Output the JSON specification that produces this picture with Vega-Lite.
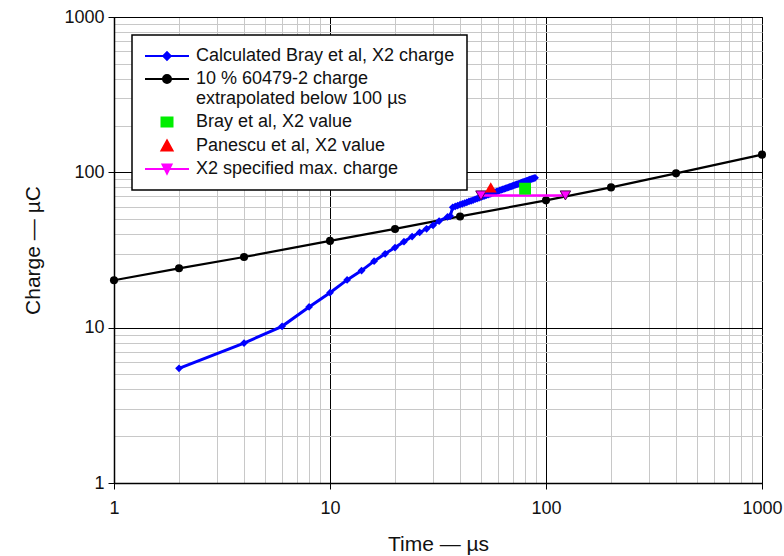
{
  "$schema": "https://vega.github.io/schema/vega-lite/v6.json",
  "width": 648,
  "height": 466,
  "autosize": {"type": "none"},
  "padding": {"left": 114, "top": 17, "right": 22, "bottom": 73},
  "background": "white",
  "config": {
    "view": {"stroke": "black", "strokeWidth": 1},
    "font": "Liberation Sans",
    "legend": {"strokeWidth": 1.5}
  },
  "datasets": {
    "iec": [
      {"t": 1, "q": 20.2, "series": "10 % 60479-2 charge|extrapolated below 100 µs"},
      {"t": 2, "q": 24.1, "series": "10 % 60479-2 charge|extrapolated below 100 µs"},
      {"t": 4, "q": 28.5, "series": "10 % 60479-2 charge|extrapolated below 100 µs"},
      {"t": 10, "q": 36.2, "series": "10 % 60479-2 charge|extrapolated below 100 µs"},
      {"t": 20, "q": 43.2, "series": "10 % 60479-2 charge|extrapolated below 100 µs"},
      {"t": 40, "q": 52, "series": "10 % 60479-2 charge|extrapolated below 100 µs"},
      {"t": 100, "q": 66, "series": "10 % 60479-2 charge|extrapolated below 100 µs"},
      {"t": 200, "q": 80, "series": "10 % 60479-2 charge|extrapolated below 100 µs"},
      {"t": 400, "q": 98.5, "series": "10 % 60479-2 charge|extrapolated below 100 µs"},
      {"t": 1000, "q": 130, "series": "10 % 60479-2 charge|extrapolated below 100 µs"}
    ],
    "bray": [
      {"t": 2, "q": 5.47, "series": "Calculated Bray et al, X2 charge"},
      {"t": 4, "q": 7.96, "series": "Calculated Bray et al, X2 charge"},
      {"t": 6, "q": 10.2, "series": "Calculated Bray et al, X2 charge"},
      {"t": 8, "q": 13.6, "series": "Calculated Bray et al, X2 charge"},
      {"t": 10, "q": 16.8, "series": "Calculated Bray et al, X2 charge"},
      {"t": 12, "q": 20.3, "series": "Calculated Bray et al, X2 charge"},
      {"t": 14, "q": 23.3, "series": "Calculated Bray et al, X2 charge"},
      {"t": 16, "q": 26.8, "series": "Calculated Bray et al, X2 charge"},
      {"t": 18, "q": 29.9, "series": "Calculated Bray et al, X2 charge"},
      {"t": 20, "q": 32.8, "series": "Calculated Bray et al, X2 charge"},
      {"t": 22, "q": 35.8, "series": "Calculated Bray et al, X2 charge"},
      {"t": 24, "q": 38.6, "series": "Calculated Bray et al, X2 charge"},
      {"t": 26, "q": 41.0, "series": "Calculated Bray et al, X2 charge"},
      {"t": 28, "q": 43.3, "series": "Calculated Bray et al, X2 charge"},
      {"t": 30, "q": 45.6, "series": "Calculated Bray et al, X2 charge"},
      {"t": 32, "q": 48.6, "series": "Calculated Bray et al, X2 charge"},
      {"t": 35, "q": 51.6, "series": "Calculated Bray et al, X2 charge"},
      {"t": 36, "q": 52.3, "series": "Calculated Bray et al, X2 charge"},
      {"t": 37, "q": 59.5, "series": "Calculated Bray et al, X2 charge"},
      {"t": 38, "q": 60.3, "series": "Calculated Bray et al, X2 charge"},
      {"t": 39, "q": 61.1, "series": "Calculated Bray et al, X2 charge"},
      {"t": 40, "q": 61.9, "series": "Calculated Bray et al, X2 charge"},
      {"t": 41, "q": 62.6, "series": "Calculated Bray et al, X2 charge"},
      {"t": 42, "q": 63.4, "series": "Calculated Bray et al, X2 charge"},
      {"t": 43, "q": 64.1, "series": "Calculated Bray et al, X2 charge"},
      {"t": 44, "q": 64.9, "series": "Calculated Bray et al, X2 charge"},
      {"t": 45, "q": 65.6, "series": "Calculated Bray et al, X2 charge"},
      {"t": 46, "q": 66.3, "series": "Calculated Bray et al, X2 charge"},
      {"t": 47, "q": 67.1, "series": "Calculated Bray et al, X2 charge"},
      {"t": 48, "q": 67.8, "series": "Calculated Bray et al, X2 charge"},
      {"t": 49, "q": 68.5, "series": "Calculated Bray et al, X2 charge"},
      {"t": 50, "q": 69.2, "series": "Calculated Bray et al, X2 charge"},
      {"t": 51, "q": 69.9, "series": "Calculated Bray et al, X2 charge"},
      {"t": 52, "q": 70.5, "series": "Calculated Bray et al, X2 charge"},
      {"t": 53, "q": 71.2, "series": "Calculated Bray et al, X2 charge"},
      {"t": 54, "q": 71.9, "series": "Calculated Bray et al, X2 charge"},
      {"t": 55, "q": 72.5, "series": "Calculated Bray et al, X2 charge"},
      {"t": 56, "q": 73.2, "series": "Calculated Bray et al, X2 charge"},
      {"t": 57, "q": 73.9, "series": "Calculated Bray et al, X2 charge"},
      {"t": 58, "q": 74.5, "series": "Calculated Bray et al, X2 charge"},
      {"t": 59, "q": 75.1, "series": "Calculated Bray et al, X2 charge"},
      {"t": 60, "q": 75.8, "series": "Calculated Bray et al, X2 charge"},
      {"t": 61, "q": 76.4, "series": "Calculated Bray et al, X2 charge"},
      {"t": 62, "q": 77.0, "series": "Calculated Bray et al, X2 charge"},
      {"t": 63, "q": 77.6, "series": "Calculated Bray et al, X2 charge"},
      {"t": 64, "q": 78.3, "series": "Calculated Bray et al, X2 charge"},
      {"t": 65, "q": 78.9, "series": "Calculated Bray et al, X2 charge"},
      {"t": 66, "q": 79.5, "series": "Calculated Bray et al, X2 charge"},
      {"t": 67, "q": 80.1, "series": "Calculated Bray et al, X2 charge"},
      {"t": 68, "q": 80.7, "series": "Calculated Bray et al, X2 charge"},
      {"t": 69, "q": 81.3, "series": "Calculated Bray et al, X2 charge"},
      {"t": 70, "q": 81.8, "series": "Calculated Bray et al, X2 charge"},
      {"t": 71, "q": 82.4, "series": "Calculated Bray et al, X2 charge"},
      {"t": 72, "q": 83.0, "series": "Calculated Bray et al, X2 charge"},
      {"t": 73, "q": 83.6, "series": "Calculated Bray et al, X2 charge"},
      {"t": 74, "q": 84.1, "series": "Calculated Bray et al, X2 charge"},
      {"t": 75, "q": 84.7, "series": "Calculated Bray et al, X2 charge"},
      {"t": 76, "q": 85.3, "series": "Calculated Bray et al, X2 charge"},
      {"t": 77, "q": 85.8, "series": "Calculated Bray et al, X2 charge"},
      {"t": 78, "q": 86.4, "series": "Calculated Bray et al, X2 charge"},
      {"t": 79, "q": 86.9, "series": "Calculated Bray et al, X2 charge"},
      {"t": 80, "q": 87.5, "series": "Calculated Bray et al, X2 charge"},
      {"t": 81, "q": 88.0, "series": "Calculated Bray et al, X2 charge"},
      {"t": 82, "q": 88.6, "series": "Calculated Bray et al, X2 charge"},
      {"t": 83, "q": 89.1, "series": "Calculated Bray et al, X2 charge"},
      {"t": 84, "q": 89.6, "series": "Calculated Bray et al, X2 charge"},
      {"t": 85, "q": 90.2, "series": "Calculated Bray et al, X2 charge"},
      {"t": 86, "q": 90.7, "series": "Calculated Bray et al, X2 charge"},
      {"t": 87, "q": 91.2, "series": "Calculated Bray et al, X2 charge"},
      {"t": 88, "q": 91.7, "series": "Calculated Bray et al, X2 charge"},
      {"t": 89, "q": 92.2, "series": "Calculated Bray et al, X2 charge"}
    ],
    "x2max": [
      {"t": 50, "q": 71, "series": "X2 specified max. charge"},
      {"t": 123, "q": 71, "series": "X2 specified max. charge"}
    ],
    "brayval": [
      {"t": 80, "q": 78.5, "series": "Bray et al, X2 value"}
    ],
    "panescu": [
      {"t": 55.5, "q": 80, "series": "Panescu et al, X2 value"}
    ]
  },
  "encoding": {
    "x": {
      "field": "t",
      "type": "quantitative",
      "scale": {"type": "log", "domain": [1, 1000], "nice": false},
      "axis": {
        "title": "Time — µs",
        "values": [1, 2, 3, 4, 5, 6, 7, 8, 9, 10, 20, 30, 40, 50, 60, 70, 80, 90, 100, 200, 300, 400, 500, 600, 700, 800, 900, 1000],
        "format": "d",
        "labelExpr": "indexof([1, 10, 100, 1000], datum.value) >= 0 ? datum.label : ''",
        "grid": true,
        "gridColor": {"condition": {"test": "indexof([1, 10, 100, 1000], datum.value) >= 0", "value": "#000000"}, "value": "#c8c8c8"},
        "gridWidth": 1,
        "gridOpacity": 1,
        "tickColor": "#000000",
        "tickOpacity": {"condition": {"test": "indexof([1, 10, 100, 1000], datum.value) >= 0", "value": 1}, "value": 0},
        "tickSize": 6,
        "tickWidth": 1,
        "domainColor": "#000000",
        "domainWidth": 1.5,
        "labelFont": "Liberation Sans",
        "labelFontSize": 18,
        "labelColor": "#111111",
        "labelPadding": 10,
        "labelFlush": false,
        "labelOverlap": false,
        "labelBound": false,
        "titleFont": "Liberation Sans",
        "titleFontSize": 21,
        "titleFontWeight": "normal",
        "titleColor": "#111111",
        "titlePadding": 16
      }
    },
    "y": {
      "field": "q",
      "type": "quantitative",
      "scale": {"type": "log", "domain": [1, 1000], "nice": false},
      "axis": {
        "title": "Charge — µC",
        "values": [1, 2, 3, 4, 5, 6, 7, 8, 9, 10, 20, 30, 40, 50, 60, 70, 80, 90, 100, 200, 300, 400, 500, 600, 700, 800, 900, 1000],
        "format": "d",
        "labelExpr": "indexof([1, 10, 100, 1000], datum.value) >= 0 ? datum.label : ''",
        "grid": true,
        "gridColor": {"condition": {"test": "indexof([1, 10, 100, 1000], datum.value) >= 0", "value": "#000000"}, "value": "#c8c8c8"},
        "gridWidth": 1,
        "gridOpacity": 1,
        "tickColor": "#000000",
        "tickOpacity": {"condition": {"test": "indexof([1, 10, 100, 1000], datum.value) >= 0", "value": 1}, "value": 0},
        "tickSize": 6,
        "tickWidth": 1,
        "domainColor": "#000000",
        "domainWidth": 1.5,
        "labelFont": "Liberation Sans",
        "labelFontSize": 18,
        "labelColor": "#111111",
        "labelPadding": 4,
        "labelOverlap": false,
        "labelBound": false,
        "labelFlush": false,
        "titleFont": "Liberation Sans",
        "titleFontSize": 21,
        "titleFontWeight": "normal",
        "titleColor": "#111111",
        "titlePadding": 20
      }
    }
  },
  "layer": [
    {
      "data": {"name": "iec"},
      "mark": {"type": "line", "color": "#000000", "strokeWidth": 2.2, "clip": false}
    },
    {
      "data": {"name": "bray"},
      "mark": {"type": "line", "color": "#0000ff", "strokeWidth": 3}
    },
    {
      "data": {"name": "bray"},
      "mark": {"type": "point", "shape": "diamond", "filled": true, "size": 60, "opacity": 1, "color": "#0000ff"}
    },
    {
      "data": {"name": "iec"},
      "mark": {"type": "point", "shape": "circle", "filled": true, "size": 65, "opacity": 1, "color": "#000000", "clip": false}
    },
    {
      "data": {"name": "x2max"},
      "mark": {"type": "line", "color": "#ff00ff", "strokeWidth": 2.5}
    },
    {
      "data": {"name": "x2max"},
      "mark": {"type": "point", "shape": "triangle-down", "filled": true, "size": 110, "opacity": 1, "fill": "#ff00ff", "stroke": "#500050", "strokeWidth": 1}
    },
    {
      "data": {"name": "brayval"},
      "mark": {"type": "point", "shape": "square", "filled": true, "size": 140, "opacity": 1, "color": "#00ee00"}
    },
    {
      "data": {"name": "panescu"},
      "mark": {"type": "point", "shape": "triangle-up", "filled": true, "size": 140, "opacity": 1, "color": "#ff0000"}
    },
    {
      "data": {"name": "bray"},
      "transform": [{"filter": "false"}],
      "mark": {"type": "point", "filled": true, "opacity": 1},
      "encoding": {
        "color": {
          "field": "series",
          "type": "nominal",
          "scale": {
            "domain": ["Calculated Bray et al, X2 charge", "10 % 60479-2 charge|extrapolated below 100 µs", "Bray et al, X2 value", "Panescu et al, X2 value", "X2 specified max. charge"],
            "range": ["#0000ff", "#000000", "#00ee00", "#ff0000", "#ff00ff"]
          },
          "legend": {
            "title": null,
            "orient": "top-left",
            "offset": 18,
            "direction": "vertical",
            "fillColor": "#ffffff",
            "strokeColor": "#000000",
            "padding": 12,
            "rowPadding": 5,
            "symbolSize": 100,
            "symbolStrokeWidth": 2,
            "symbolOpacity": 1,
            "symbolOffset": 14,
            "labelOffset": 20,
            "labelFont": "Liberation Sans",
            "labelFontSize": 18,
            "labelColor": "#111111",
            "labelLimit": 400,
            "labelBaseline": "middle",
            "labelExpr": "split(datum.label, '|')"
          }
        },
        "stroke": {
          "field": "series",
          "type": "nominal",
          "scale": {
            "domain": ["Calculated Bray et al, X2 charge", "10 % 60479-2 charge|extrapolated below 100 µs", "Bray et al, X2 value", "Panescu et al, X2 value", "X2 specified max. charge"],
            "range": ["#0000ff", "#000000", "#00ee00", "#ff0000", "#ff00ff"]
          },
          "legend": {
            "title": null,
            "orient": "top-left",
            "offset": 18,
            "direction": "vertical",
            "fillColor": "#ffffff",
            "strokeColor": "#000000",
            "padding": 12,
            "rowPadding": 5,
            "symbolSize": 100,
            "symbolStrokeWidth": 2,
            "symbolOpacity": 1,
            "symbolOffset": 14,
            "labelOffset": 20,
            "labelFont": "Liberation Sans",
            "labelFontSize": 18,
            "labelColor": "#111111",
            "labelLimit": 400,
            "labelBaseline": "middle",
            "labelExpr": "split(datum.label, '|')"
          }
        },
        "shape": {
          "field": "series",
          "type": "nominal",
          "scale": {
            "domain": ["Calculated Bray et al, X2 charge", "10 % 60479-2 charge|extrapolated below 100 µs", "Bray et al, X2 value", "Panescu et al, X2 value", "X2 specified max. charge"],
            "range": [
              "M-4.4,0H4.4M0,-0.75L0.75,0L0,0.75L-0.75,0Z",
              "M-4.4,0H4.4M0.8,0A0.8,0.8,0,1,1,-0.8,0A0.8,0.8,0,1,1,0.8,0Z",
              "M-1.1,-0.9H1.1V0.9H-1.1Z",
              "M0,-1.1L1.1,0.9L-1.1,0.9Z",
              "M-4.4,0H4.4M-0.9,-0.9H0.9L0,0.9Z"
            ]
          },
          "legend": {
            "title": null,
            "orient": "top-left",
            "offset": 18,
            "direction": "vertical",
            "fillColor": "#ffffff",
            "strokeColor": "#000000",
            "padding": 12,
            "rowPadding": 5,
            "symbolSize": 100,
            "symbolStrokeWidth": 2,
            "symbolOpacity": 1,
            "symbolOffset": 14,
            "labelOffset": 20,
            "labelFont": "Liberation Sans",
            "labelFontSize": 18,
            "labelColor": "#111111",
            "labelLimit": 400,
            "labelBaseline": "middle",
            "labelExpr": "split(datum.label, '|')"
          }
        }
      }
    }
  ]
}
